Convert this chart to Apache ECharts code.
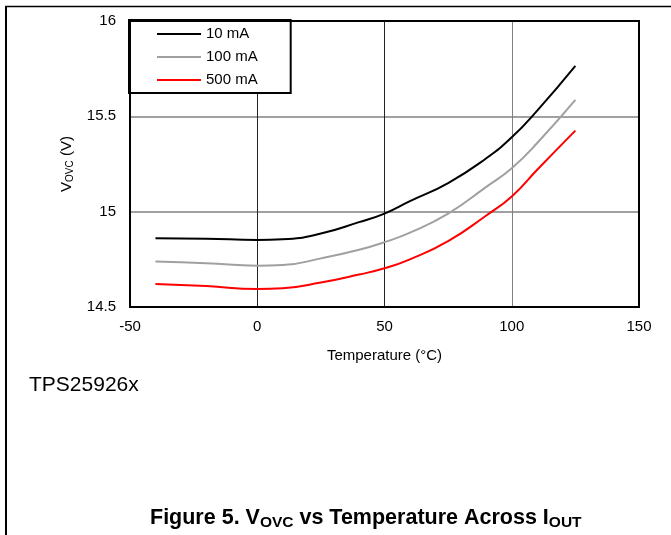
<!DOCTYPE html>
<html>
<head>
<meta charset="utf-8">
<script src="https://cdn.jsdelivr.net/npm/echarts@6/dist/echarts.min.js"></script>
<style>
html,body{margin:0;padding:0;background:#fff;}
#c{width:671px;height:535px;}
</style>
</head>
<body>
<div id="c"></div>
<script>
const temps = [-40, -20, 0, 10, 25, 40, 50, 60, 75, 90, 100, 110, 125];
const v10mA  = [14.86, 14.858, 14.852, 14.855, 14.885, 14.945, 14.99, 15.055, 15.15, 15.28, 15.39, 15.53, 15.765];
const v100mA = [14.738, 14.73, 14.717, 14.72, 14.755, 14.80, 14.84, 14.89, 14.99, 15.13, 15.228, 15.36, 15.586];
const v500mA = [14.621, 14.61, 14.594, 14.598, 14.628, 14.67, 14.703, 14.75, 14.845, 14.98, 15.08, 15.22, 15.425];
const seriesNames = ['10 mA', '100 mA', '500 mA'];
const seriesColors = ['#000000', '#a0a0a0', '#ff0000'];
const xTicks = [-50, 0, 50, 100, 150];
const yTicks = [14.5, 15, 15.5, 16];

const FONT = 'Liberation Sans, Arial, sans-serif';
const chart = echarts.init(document.getElementById('c'), null, {renderer: 'canvas'});
const allData = [v10mA, v100mA, v500mA];

chart.setOption({
  animation: false,
  backgroundColor: '#fff',
  textStyle: {fontFamily: FONT, color: '#000'},
  grid: {left: 130, right: 32, top: 21, bottom: 228, show: true, borderColor: '#000', borderWidth: 2, backgroundColor: 'transparent', z: 5},
  legend: {
    orient: 'vertical', left: 129, top: 20,
    backgroundColor: '#fff', borderColor: '#000', borderWidth: 2, borderRadius: 0,
    padding: [5, 33, 4, 28],
    itemWidth: 44, itemHeight: 2, itemGap: 5,
    icon: 'rect',
    textStyle: {fontFamily: FONT, fontSize: 15, color: '#000', lineHeight: 18},
    data: seriesNames
  },
  xAxis: {
    type: 'value', min: -50, max: 150, interval: 50,
    name: 'Temperature (°C)', nameLocation: 'middle', nameGap: 41,
    nameTextStyle: {fontFamily: FONT, fontSize: 15, color: '#000'},
    axisLine: {show: false}, axisTick: {show: false},
    axisLabel: {fontFamily: FONT, fontSize: 15, color: '#000', margin: 12,
      formatter: v => xTicks.includes(v) ? String(v) : ''},
    splitLine: {show: true, lineStyle: {color: ['#222', '#222', '#222', '#808080', '#222'], width: 1}}
  },
  yAxis: {
    type: 'value', min: 14.5, max: 16, interval: 0.5,
    name: '{v|V}{s|OVC}{v| (V)}', nameLocation: 'middle', nameGap: 55, nameRotate: 90,
    nameTextStyle: {fontFamily: FONT, fontSize: 15, color: '#000',
      rich: {v: {fontFamily: FONT, fontSize: 15, color: '#000'}, s: {fontFamily: FONT, fontSize: 10, color: '#000', padding: [7, 0, 0, 0]}}},
    axisLine: {show: false}, axisTick: {show: false},
    axisLabel: {fontFamily: FONT, fontSize: 15, color: '#000', margin: 14,
      formatter: v => yTicks.includes(v) ? String(v) : ''},
    splitLine: {show: true, lineStyle: {color: '#808080', width: 1.5}}
  },
  series: seriesNames.map((n, i) => ({
    name: n, type: 'line', smooth: 0.5, showSymbol: false, symbol: 'none',
    data: temps.map((t, j) => [t, allData[i][j]]),
    lineStyle: {color: seriesColors[i], width: 2}, itemStyle: {color: seriesColors[i]}, z: 3
  })),
  graphic: [
    {type: 'line', shape: {x1: 5, y1: 6.5, x2: 671, y2: 6.5}, style: {stroke: '#000', lineWidth: 1.5}},
    {type: 'line', shape: {x1: 6, y1: 6, x2: 6, y2: 535}, style: {stroke: '#000', lineWidth: 2}},
    {type: 'text', left: 29, top: 375, style: {text: 'TPS25926x', font: '21px ' + FONT, fill: '#000'}},
    {type: 'text', left: 150, top: 507, style: {
      text: '{b|Figure 5. V}{bs|OVC}{b| vs Temperature Across I}{bs|OUT}',
      rich: {b: {font: 'bold 21.5px ' + FONT, fill: '#000'}, bs: {font: 'bold 15.5px ' + FONT, fill: '#000', padding: [9, 0, 0, 0]}}
    }}
  ]
});
</script>
</body>
</html>
